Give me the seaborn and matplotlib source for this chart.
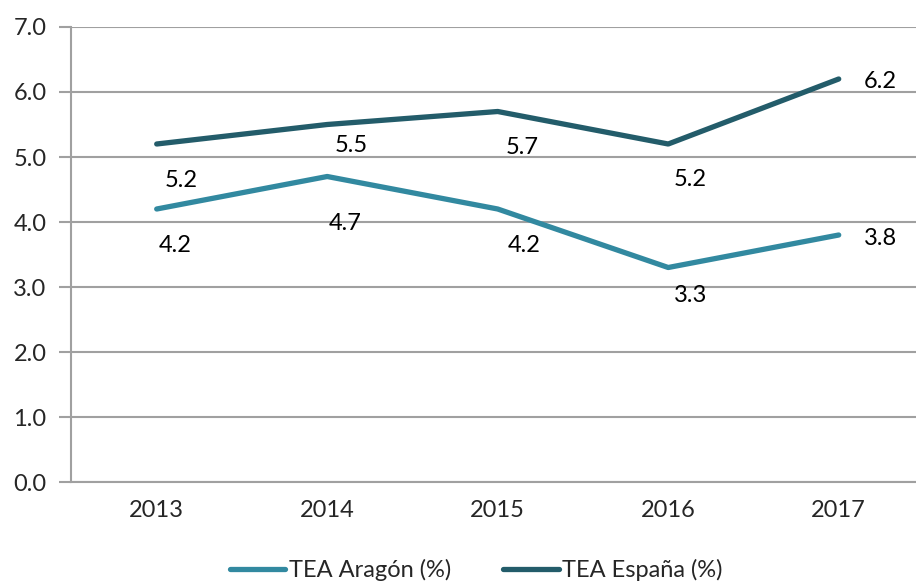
import numpy as np
import pandas as pd
import matplotlib
matplotlib.use("Agg")
import matplotlib.pyplot as plt
import seaborn as sns

years = ["2013", "2014", "2015", "2016", "2017"]
aragon = [4.2, 4.7, 4.2, 3.3, 3.8]
espana = [5.2, 5.5, 5.7, 5.2, 6.2]
series_names = ["TEA Aragón (%)", "TEA España (%)"]

# label offsets in pixels (dx, dy) relative to each point
off_aragon = [(18, -36), (18, -47), (26, -36), (22, -28), (42, -3)]
off_espana = [(24, -36), (24, -21), (24, -36), (22, -35), (42, -3)]

colors = ["#3289A0", "#235C6A"]
fs = 17

df = pd.DataFrame({
    "pos": list(range(len(years))) * 2,
    "valor": aragon + espana,
    "serie": [series_names[0]] * len(years) + [series_names[1]] * len(years),
})

sns.set_style("white")
plt.rcParams["font.family"] = ["Lato", "DejaVu Sans"]

fig = plt.figure(figsize=(9.16, 5.83), dpi=100)
ax = fig.add_axes([0.078, 0.1732, 0.9307, 0.7805])

sns.lineplot(data=df, x="pos", y="valor", hue="serie", palette=colors,
             linewidth=3.8, ax=ax, legend=True, solid_capstyle="round")

ax.set_xlim(-0.5, len(years) - 0.5)
ax.set_ylim(0, 7)
ax.set_yticks(np.arange(0, 7.01, 1.0))
ax.set_yticklabels([f"{v:.1f}" for v in np.arange(0, 7.01, 1.0)], fontsize=fs)
ax.set_xticks(range(len(years)))
ax.set_xticklabels(years, fontsize=fs)
ax.set_xticks(np.arange(-0.5, len(years)), minor=True)
ax.tick_params(axis="x", which="major", length=0, pad=13)
ax.tick_params(axis="x", which="minor", length=8, width=1.5, color="#A0A0A0", direction="out")
ax.tick_params(axis="y", length=9, width=1.5, color="#A0A0A0", direction="out", pad=9, left=True)
ax.set_xlabel("")
ax.set_ylabel("")
ax.grid(axis="y", color="#A0A0A0", linewidth=1.5)
ax.set_axisbelow(True)
for s in ["top", "right"]:
    ax.spines[s].set_visible(False)
for s in ["left", "bottom"]:
    ax.spines[s].set_color("#A0A0A0")
    ax.spines[s].set_linewidth(1.5)

for vals, offs in [(aragon, off_aragon), (espana, off_espana)]:
    for i, (v, o) in enumerate(zip(vals, offs)):
        ax.annotate(f"{v:.1f}", (i, v), xytext=(o[0] * 0.72, o[1] * 0.72),
                    textcoords="offset points", ha="center", va="center",
                    fontsize=fs, color="black")

handles, labels = ax.get_legend_handles_labels()
ax.legend(handles, labels, loc="center", bbox_to_anchor=(0.52, 0.022),
          bbox_transform=fig.transFigure, ncol=2, frameon=False,
          fontsize=fs, handlelength=2.35, handletextpad=0.15, columnspacing=2.2)

fig.savefig("out.png", dpi=100)
